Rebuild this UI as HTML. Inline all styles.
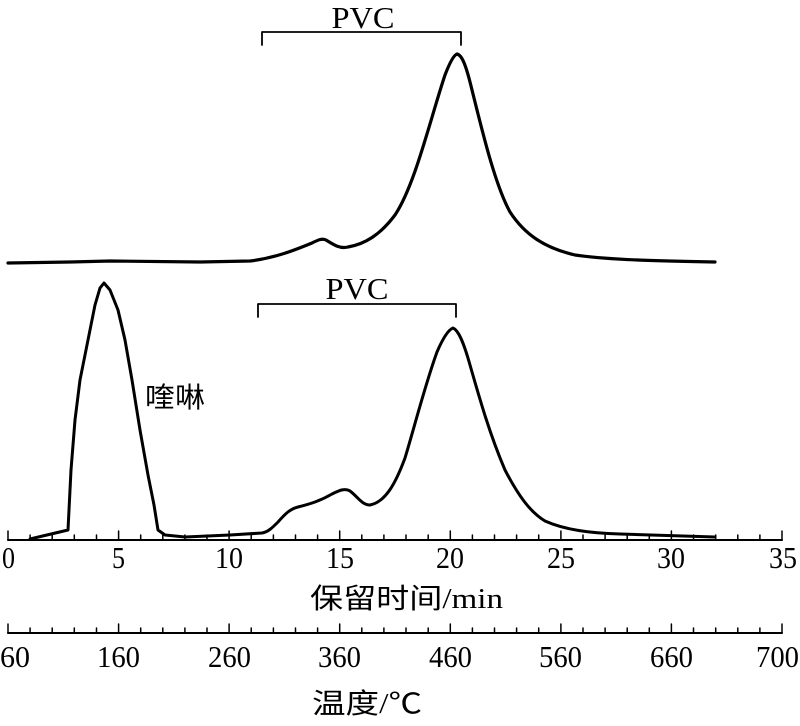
<!DOCTYPE html>
<html><head><meta charset="utf-8"><style>
html,body{margin:0;padding:0;background:#fff;}
svg{display:block}
text{font-family:"Liberation Serif","Noto Serif CJK SC",serif;fill:#000}
.cn{font-family:"Liberation Serif","Noto Sans CJK SC",sans-serif}
</style></head><body>
<svg width="800" height="726" viewBox="0 0 800 726" xmlns="http://www.w3.org/2000/svg">
<g fill="none" stroke="#000" stroke-linejoin="round" stroke-linecap="round">
<path stroke-width="3.2" d="M8,263 L70,262 L110,261 L200,262 L250,261 C275,258 295,250 312,243 C318,240 322,238 326,240 C334,245 340,249 348,247 C365,244 380,235 395,215 C415,185 430,120 445,75 C450,62 454,55 457,54 C462,55 466,65 472,90 C482,130 495,185 510,212 C525,235 545,248 575,255 C610,260 660,261 715,262"/>
<path stroke-width="3" d="M30,539 L68,530 L71,470 L75,420 L80,380 L88,340 L95,305 L100,288 L104,283 L110,290 L118,310 L125,340 L132,380 L140,430 L148,475 L154,505 L158,530 L165,535 L185,537 L230,535 L262,533 C268,532 272,528 278,522 C285,514 290,509 298,507 C310,504 320,501 332,494 C340,490 345,488 350,491 C358,497 362,505 370,505 C385,502 395,485 405,458 C415,425 425,385 437,352 C443,338 448,330 453,328 C458,330 463,340 470,365 C480,400 490,435 505,470 C518,495 530,512 545,521 C565,530 590,533 620,534 C660,535 690,536 715,537"/>
<path stroke-width="1.8" d="M262,45 V32 H461 V45"/>
<path stroke-width="1.8" d="M258,317 V304 H456 V317"/>
<path stroke-width="2" d="M8,540 H782"/>
<path stroke-width="1.5" d="M8,531V540M118.6,531V540M229.1,531V540M339.7,531V540M450.3,531V540M560.9,531V540M671.4,531V540M782,531V540
M30.1,535V540M52.2,535V540M74.3,535V540M96.5,535V540M140.7,535V540M162.8,535V540M184.9,535V540M207,535V540M251.2,535V540M273.4,535V540M295.5,535V540M317.6,535V540M361.8,535V540M383.9,535V540M406,535V540M428.2,535V540M472.4,535V540M494.5,535V540M516.6,535V540M538.7,535V540M583,535V540M605.1,535V540M627.2,535V540M649.3,535V540M693.5,535V540M715.7,535V540M737.8,535V540M759.9,535V540"/>
<path stroke-width="2" d="M8,633 H782"/>
<path stroke-width="1.5" d="M8,624V633M118.6,624V633M229.1,624V633M339.7,624V633M450.3,624V633M560.9,624V633M671.4,624V633M782,624V633
M30.1,628V633M52.2,628V633M74.3,628V633M96.5,628V633M140.7,628V633M162.8,628V633M184.9,628V633M207,628V633M251.2,628V633M273.4,628V633M295.5,628V633M317.6,628V633M361.8,628V633M383.9,628V633M406,628V633M428.2,628V633M472.4,628V633M494.5,628V633M516.6,628V633M538.7,628V633M583,628V633M605.1,628V633M627.2,628V633M649.3,628V633M693.5,628V633M715.7,628V633M737.8,628V633M759.9,628V633"/>
</g>
<g font-size="31">
<text x="363" y="28" text-anchor="middle" textLength="63" lengthAdjust="spacingAndGlyphs">PVC</text>
<text x="357" y="299" text-anchor="middle" textLength="63" lengthAdjust="spacingAndGlyphs">PVC</text>
<text x="145" y="407" class="cn" font-size="28" textLength="60" lengthAdjust="spacingAndGlyphs">喹啉</text>
<text x="2" y="568" textLength="13" lengthAdjust="spacingAndGlyphs">0</text>
<text x="112" y="568" textLength="13" lengthAdjust="spacingAndGlyphs">5</text>
<text x="215" y="568" textLength="28" lengthAdjust="spacingAndGlyphs">10</text>
<text x="326" y="568" textLength="28" lengthAdjust="spacingAndGlyphs">15</text>
<text x="436" y="568" textLength="28" lengthAdjust="spacingAndGlyphs">20</text>
<text x="547" y="568" textLength="28" lengthAdjust="spacingAndGlyphs">25</text>
<text x="657" y="568" textLength="28" lengthAdjust="spacingAndGlyphs">30</text>
<text x="769" y="568" textLength="28" lengthAdjust="spacingAndGlyphs">35</text>
<text x="310" y="608" class="cn" font-size="28" textLength="193" lengthAdjust="spacingAndGlyphs">保留时间/min</text>
<text x="0" y="667" textLength="30" lengthAdjust="spacingAndGlyphs">60</text>
<text x="97" y="667" textLength="43" lengthAdjust="spacingAndGlyphs">160</text>
<text x="208" y="667" textLength="43" lengthAdjust="spacingAndGlyphs">260</text>
<text x="318" y="667" textLength="43" lengthAdjust="spacingAndGlyphs">360</text>
<text x="429" y="667" textLength="43" lengthAdjust="spacingAndGlyphs">460</text>
<text x="539" y="667" textLength="43" lengthAdjust="spacingAndGlyphs">560</text>
<text x="650" y="667" textLength="43" lengthAdjust="spacingAndGlyphs">660</text>
<text x="756" y="667" textLength="43" lengthAdjust="spacingAndGlyphs">700</text>
<text x="312" y="713" class="cn" font-size="28" textLength="110" lengthAdjust="spacingAndGlyphs">温度/℃</text>
</g>
</svg>
</body></html>
